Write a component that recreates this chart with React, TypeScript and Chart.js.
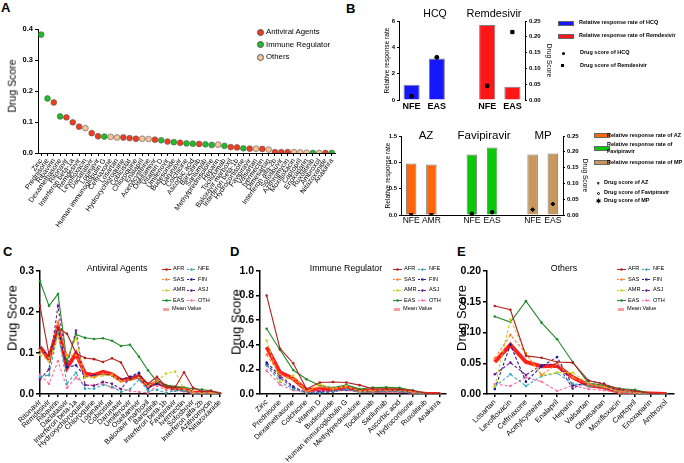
import React, { useEffect, useRef } from "react";
import { Chart, registerables } from "chart.js";
Chart.register(...registerables);

const FONT = "'Liberation Sans', Arial, Helvetica, sans-serif";
Chart.defaults.font.family = FONT;
Chart.defaults.color = "#000";

// ---------------- Panel A ----------------
const A_DRUGS = [
  "Zinc", "Prednisone", "Ribavirin", "Dexamethasone", "Ritonavir", "Interferon beta-1a", "Remdesivir",
  "Levofloxacin", "Daclatasvir", "Lopinavir", "Human immunoglobulin G", "Ceftriaxone", "Losartan",
  "Hydroxychloroquine", "Cobicistat", "Chloroquine", "Enalapril", "Acetylcysteine", "Oseltamivir",
  "Vitamin D", "Umifenovir", "Budesonide", "Darunavir", "Colchicine", "Ascorbic acid", "Baricitinib",
  "Sarilumab", "Methylprednisolone", "Heparin", "Tocilizumab", "Baloxavir marboxil", "Interferon beta-1b",
  "Hydrocortisone", "Favipiravir", "Valsartan", "Ivermectin", "Olmesartan", "Interferon alfa-2b",
  "Sofosbuvir", "Azithromycin", "Moxifloxacin", "Captopril", "Enoxaparin", "Ruxolitinib", "Ambroxol",
  "Nitazoxanide", "Anakinra",
];
const A_SCORES = [
  0.382, 0.176, 0.163, 0.118, 0.115, 0.099, 0.085, 0.080, 0.064, 0.054, 0.053, 0.052, 0.050, 0.050,
  0.048, 0.046, 0.046, 0.045, 0.043, 0.041, 0.037, 0.035, 0.033, 0.031, 0.030, 0.029, 0.028, 0.026,
  0.027, 0.023, 0.019, 0.018, 0.015, 0.014, 0.014, 0.013, 0.011, 0.003, 0.003, 0.003, 0.003, 0.002,
  0.001, 0.000, 0.000, 0.000, 0.000,
];
const A_GROUPS = [
  "IR", "IR", "AV", "IR", "AV", "AV", "AV", "OT", "AV", "AV", "IR", "OT", "OT", "AV", "AV", "AV", "OT",
  "OT", "AV", "IR", "AV", "IR", "AV", "IR", "IR", "AV", "IR", "IR", "OT", "IR", "AV", "AV", "IR", "AV",
  "OT", "AV", "OT", "AV", "AV", "AV", "OT", "OT", "OT", "IR", "OT", "AV", "IR",
];
const A_GROUP_NAMES = ["Antiviral Agents", "Immune Regulator", "Others"];
const A_GROUP_KEYS = ["AV", "IR", "OT"];
const A_GROUP_COLORS = ["#f23c1c", "#1fbd2a", "#f6c49c"];
const A_TICKS = [0, 0.1, 0.2, 0.3, 0.4];

// ---------------- Panel B ----------------
const B1_CATS = ["NFE", "EAS", "", "NFE", "EAS"];
const HCQ_RATE = [1.15, 3.15, null, null, null];
const REM_RATE = [null, null, null, 5.7, 1.0];
const HCQ_SCORE = [0.012, 0.135, null, null, null];
const REM_SCORE = [null, null, null, 0.045, 0.215];

const B2_CATS = ["NFE", "AMR", "", "NFE", "EAS", "", "NFE", "EAS"];
const AZ_RATE = [0.98, 0.96, null, null, null, null, null, null];
const FAV_RATE = [null, null, null, 1.15, 1.28, null, null, null];
const MP_RATE = [null, null, null, null, null, null, 1.15, 1.17];
const AZ_SCORE = [0.001, 0.001, null, null, null, null, null, null];
const FAV_SCORE = [null, null, null, 0.004, 0.009, null, null, null];
const MP_SCORE = [null, null, null, null, null, null, 0.017, 0.035];

// ---------------- Panel C (Antiviral Agents) ----------------
const C_DRUGS = [
  "Ritonavir", "Remdesivir", "Ribavirin", "Daclatasvir", "Interferon beta-1a", "Hydroxychloroquine",
  "Chloroquine", "Lopinavir", "Cobicistat", "Darunavir", "Umifenovir", "Oseltamivir", "Baloxavir marboxil",
  "Baricitinib", "Interferon beta-1b", "Favipiravir", "Ivermectin", "Sofosbuvir", "Interferon alfa-2b",
  "Azithromycin", "Nitazoxanide",
];
const C_AFR = [0.215, 0.095, 0.160, 0.147, 0.100, 0.088, 0.085, 0.078, 0.087, 0.077, 0.036, 0.045, 0.025, 0.042, 0.018, 0.016, 0.053, 0.015, 0.006, 0.008, 0.001];
const C_SAS = [0.107, 0.088, 0.175, 0.095, 0.095, 0.045, 0.042, 0.050, 0.048, 0.032, 0.036, 0.045, 0.018, 0.032, 0.015, 0.012, 0.012, 0.004, 0.003, 0.003, 0.001];
const C_AMR = [0.096, 0.080, 0.140, 0.090, 0.135, 0.040, 0.040, 0.045, 0.045, 0.030, 0.035, 0.042, 0.020, 0.032, 0.050, 0.055, 0.012, 0.004, 0.003, 0.003, 0.001];
const C_EAS = [0.275, 0.215, 0.244, 0.080, 0.145, 0.137, 0.134, 0.136, 0.130, 0.117, 0.120, 0.091, 0.058, 0.030, 0.022, 0.018, 0.016, 0.013, 0.011, 0.008, 0.002];
const C_NFE = [0.042, 0.046, 0.150, 0.025, 0.052, 0.013, 0.013, 0.022, 0.018, 0.005, 0.012, 0.035, 0.008, 0.010, 0.003, 0.008, 0.008, 0.002, 0.002, 0.002, 0.000];
const C_FIN = [0.110, 0.092, 0.160, 0.065, 0.070, 0.043, 0.045, 0.048, 0.045, 0.035, 0.042, 0.052, 0.015, 0.025, 0.017, 0.012, 0.010, 0.003, 0.003, 0.003, 0.001];
const C_ASJ = [0.036, 0.060, 0.215, 0.070, 0.155, 0.022, 0.020, 0.030, 0.025, 0.012, 0.040, 0.050, 0.012, 0.035, 0.015, 0.010, 0.008, 0.002, 0.002, 0.002, 0.000];
const C_OTH = [0.047, 0.025, 0.080, 0.015, 0.040, 0.022, 0.022, 0.025, 0.015, 0.012, 0.008, 0.005, 0.003, 0.020, 0.010, 0.008, 0.006, 0.002, 0.002, 0.002, 0.000];
const C_MEAN = [0.115, 0.085, 0.163, 0.064, 0.099, 0.050, 0.046, 0.054, 0.048, 0.033, 0.037, 0.043, 0.019, 0.029, 0.018, 0.014, 0.013, 0.003, 0.003, 0.003, 0.000];
const C_TICKS = [0, 0.1, 0.2, 0.3];

// ---------------- Panel D (Immune Regulator) ----------------
const D_DRUGS = [
  "Zinc", "Prednisone", "Dexamethasone", "Colchicine", "Vitamin D", "Budesonide", "Human immunoglobulin G",
  "Methylprednisolone", "Tocilizumab", "Sarilumab", "Ascorbic acid", "Hydrocortisone", "Ruxolitinib", "Anakinra",
];
const D_AFR = [0.80, 0.37, 0.25, 0.040, 0.093, 0.098, 0.093, 0.072, 0.042, 0.042, 0.038, 0.028, 0.004, 0.003];
const D_SAS = [0.32, 0.16, 0.12, 0.020, 0.060, 0.045, 0.060, 0.025, 0.025, 0.030, 0.030, 0.018, 0.002, 0.001];
const D_AMR = [0.435, 0.10, 0.15, 0.020, 0.080, 0.040, 0.065, 0.020, 0.030, 0.035, 0.030, 0.020, 0.002, 0.001];
const D_EAS = [0.53, 0.36, 0.195, 0.120, 0.070, 0.050, 0.075, 0.040, 0.053, 0.055, 0.050, 0.028, 0.003, 0.002];
const D_NFE = [0.23, 0.10, 0.04, 0.010, 0.010, 0.020, 0.040, 0.015, 0.015, 0.020, 0.020, 0.010, 0.001, 0.001];
const D_FIN = [0.255, 0.15, 0.06, 0.010, 0.010, 0.020, 0.040, 0.020, 0.020, 0.025, 0.025, 0.010, 0.001, 0.001];
const D_ASJ = [0.24, 0.13, 0.05, 0.010, 0.020, 0.025, 0.035, 0.020, 0.020, 0.020, 0.020, 0.010, 0.001, 0.001];
const D_OTH = [0.19, 0.075, 0.03, 0.010, 0.030, 0.020, 0.030, 0.015, 0.015, 0.015, 0.015, 0.010, 0.001, 0.001];
const D_MEAN = [0.382, 0.176, 0.125, 0.031, 0.041, 0.035, 0.053, 0.026, 0.023, 0.028, 0.030, 0.015, 0.000, 0.000];
const D_TICKS = [0, 0.2, 0.4, 0.6, 0.8, 1.0];

// ---------------- Panel E (Others) ----------------
const E_DRUGS = [
  "Losartan", "Levofloxacin", "Ceftriaxone", "Acetylcysteine", "Enalapril", "Heparin", "Valsartan",
  "Olmesartan", "Moxifloxacin", "Captopril", "Enoxaparin", "Ambroxol",
];
const E_AFR = [0.143, 0.137, 0.062, 0.059, 0.052, 0.051, 0.022, 0.016, 0.008, 0.005, 0.001, 0.000];
const E_SAS = [0.058, 0.096, 0.066, 0.031, 0.049, 0.027, 0.016, 0.012, 0.004, 0.003, 0.001, 0.000];
const E_AMR = [0.012, 0.121, 0.066, 0.030, 0.035, 0.035, 0.017, 0.012, 0.004, 0.003, 0.001, 0.000];
const E_EAS = [0.126, 0.117, 0.151, 0.116, 0.089, 0.052, 0.018, 0.014, 0.009, 0.007, 0.001, 0.000];
const E_NFE = [0.012, 0.032, 0.013, 0.029, 0.034, 0.017, 0.013, 0.011, 0.003, 0.002, 0.000, 0.000];
const E_FIN = [0.008, 0.080, 0.020, 0.045, 0.060, 0.014, 0.017, 0.013, 0.005, 0.003, 0.001, 0.000];
const E_ASJ = [0.032, 0.051, 0.031, 0.047, 0.049, 0.009, 0.022, 0.017, 0.005, 0.003, 0.001, 0.000];
const E_OTH = [0.016, 0.013, 0.027, 0.020, 0.005, 0.014, 0.008, 0.006, 0.002, 0.001, 0.000, 0.000];
const E_MEAN = [0.052, 0.080, 0.052, 0.045, 0.046, 0.027, 0.014, 0.011, 0.003, 0.002, 0.001, 0.000];
const E_TICKS = [0, 0.05, 0.1, 0.15, 0.2];

const POP_NAMES = ["AFR", "SAS", "AMR", "EAS", "NFE", "FIN", "ASJ", "OTH"];
const POP_COLORS = ["#b3201e", "#ff7f2a", "#cfd01c", "#1f8a2a", "#3aa7b9", "#1c1c96", "#6a1f8a", "#ff6f9f"];
const POP_DASHED = [false, true, true, false, true, true, true, true];
const MEAN_LABEL = "Mean Value";
const MEAN_COLOR = "#ff1f1f";

// ---------------- helpers ----------------
type Box = { left: number; top: number; width: number; height: number };

function ChartBox({ box, make }: { box: Box; make: () => any }) {
  const ref = useRef<HTMLCanvasElement | null>(null);
  useEffect(() => {
    const c = new Chart(ref.current as HTMLCanvasElement, make());
    return () => c.destroy();
  }, []);
  return (
    <canvas
      ref={ref}
      width={box.width}
      height={box.height}
      style={{ position: "absolute", left: box.left, top: box.top, width: box.width, height: box.height }}
    />
  );
}

function baseOptions(padding: any) {
  return {
    responsive: false,
    animation: false,
    devicePixelRatio: 1,
    events: [],
    layout: { padding },
    plugins: { legend: { display: false }, tooltip: { enabled: false }, title: { display: false } },
  };
}

function yAxis(o: {
  ticks: number[]; dec: number; width: number; size: number; position?: string;
  title?: string; titleSize?: number; titlePad?: number; tickLen?: number; lw?: number;
}) {
  return {
    type: "linear",
    position: o.position || "left",
    min: o.ticks[0],
    max: o.ticks[o.ticks.length - 1],
    afterBuildTicks: (s: any) => { s.ticks = o.ticks.map((v) => ({ value: v })); },
    ticks: {
      font: { size: o.size, weight: "bold" },
      color: "#000",
      padding: 2,
      callback: (v: number) => Number(v).toFixed(o.dec),
    },
    grid: { drawOnChartArea: false, drawTicks: true, tickLength: o.tickLen ?? 3, color: "#000", lineWidth: o.lw ?? 1 },
    border: { display: true, color: "#000", width: o.lw ?? 1 },
    title: o.title
      ? { display: true, text: o.title, color: "#000", font: { size: o.titleSize }, padding: { top: o.titlePad ?? 0, bottom: 0 } }
      : { display: false },
    afterFit: (s: any) => { s.width = o.width; },
  };
}

function xAxis(labels: string[], o: {
  height: number; size: number; rot: number; bold?: boolean; border?: boolean; marks?: boolean; offset?: boolean; lw?: number;
}) {
  return {
    type: "category",
    labels,
    offset: o.offset ?? true,
    ticks: {
      autoSkip: false,
      minRotation: o.rot,
      maxRotation: o.rot,
      font: { size: o.size, weight: o.bold ? "bold" : "normal" },
      color: "#000",
      padding: 1,
    },
    grid: { drawOnChartArea: false, drawTicks: o.marks ?? true, tickLength: 3, color: "#000", lineWidth: o.lw ?? 1, offset: false },
    border: { display: o.border ?? true, color: "#000", width: o.lw ?? 1 },
    afterFit: (s: any) => { s.height = o.height; },
  };
}

function T(p: { x: number; y: number; size: number; bold?: boolean; anchor?: string; rotate?: number; color?: string; children: any }) {
  const tx = p.anchor === "center" ? "-50%" : p.anchor === "right" ? "-100%" : "0";
  return (
    <div
      style={{
        position: "absolute", left: p.x, top: p.y, fontSize: p.size, fontWeight: p.bold ? "bold" : "normal",
        lineHeight: 1, whiteSpace: "nowrap", color: p.color || "#000",
        transform: `translate(${tx}, -50%)${p.rotate ? ` rotate(${p.rotate}deg)` : ""}`,
      }}
    >
      {p.children}
    </div>
  );
}

// ---------------- chart configs ----------------
function makeA() {
  return {
    type: "line",
    data: {
      labels: A_DRUGS,
      datasets: A_GROUP_KEYS.map((g, k) => ({
        label: A_GROUP_NAMES[k],
        data: A_SCORES.map((v, i) => (A_GROUPS[i] === g ? v : null)),
        showLine: false,
        pointRadius: 2.9,
        pointBackgroundColor: A_GROUP_COLORS[k],
        pointBorderColor: "#555",
        pointBorderWidth: 0.6,
      })),
    },
    options: {
      ...baseOptions({ top: 29, right: 5, left: 0, bottom: 0 }),
      scales: {
        x: xAxis(A_DRUGS, { height: 82, size: 7.1, rot: 55 }),
        y: yAxis({ ticks: A_TICKS, dec: 1, width: 38, size: 7.5 }),
      },
    },
  };
}

function lineDatasets(series: number[][], mean: number[]) {
  const ds: any[] = series.map((d, i) => ({
    label: POP_NAMES[i],
    data: d,
    borderColor: POP_COLORS[i],
    backgroundColor: POP_COLORS[i],
    borderWidth: 1.1,
    borderDash: POP_DASHED[i] ? [3, 2] : [],
    pointRadius: 1.3,
    pointBorderWidth: 0,
    pointBackgroundColor: POP_COLORS[i],
    tension: 0,
  }));
  ds.push({
    label: MEAN_LABEL,
    data: mean,
    borderColor: MEAN_COLOR,
    backgroundColor: MEAN_COLOR,
    borderWidth: 4,
    pointRadius: 0,
    tension: 0,
  });
  return ds;
}

function makeLines(labels: string[], series: number[][], mean: number[], ticks: number[], dec: number, pad: any, yw: number, offset: boolean, xsize: number) {
  return {
    type: "line",
    data: { labels, datasets: lineDatasets(series, mean) },
    options: {
      ...baseOptions(pad),
      scales: {
        x: xAxis(labels, { height: 69, size: xsize, rot: 45, offset, lw: 1.5 }),
        y: yAxis({ ticks, dec, width: yw, size: 10.5, tickLen: 4, lw: 1.5 }),
      },
    },
  };
}

function makeB1() {
  const bar = (data: any[], color: string) => ({
    type: "bar", data, backgroundColor: color, borderColor: "#7d7d7d", borderWidth: 1,
    grouped: false, barPercentage: 0.64, categoryPercentage: 1, yAxisID: "y", order: 2,
  });
  const pts = (data: any[], style: string, r: number) => ({
    type: "line", data, showLine: false, pointStyle: style, pointRadius: r,
    pointBackgroundColor: "#000", pointBorderColor: "#000", yAxisID: "y2", order: 0,
  });
  return {
    type: "bar",
    data: {
      labels: B1_CATS,
      datasets: [bar(HCQ_RATE, "#1717ff"), bar(REM_RATE, "#ff1717"), pts(HCQ_SCORE, "circle", 2), pts(REM_SCORE, "rect", 2.3)],
    },
    options: {
      ...baseOptions({ top: 21, right: 0, left: 0, bottom: 0 }),
      scales: {
        x: xAxis(B1_CATS, { height: 25, size: 9, rot: 0, bold: true, border: false, marks: false }),
        y: yAxis({ ticks: [0, 2, 4, 6], dec: 0, width: 23, size: 6, title: "Relative response rate", titleSize: 6.6, titlePad: 7, tickLen: 2 }),
        y2: yAxis({ ticks: [0, 0.05, 0.1, 0.15, 0.2, 0.25], dec: 2, width: 28, size: 6, position: "right", title: "Drug Score", titleSize: 6.6, titlePad: 0.5, tickLen: 2 }),
      },
    },
  };
}

function makeB2() {
  const bar = (data: any[], color: string) => ({
    type: "bar", data, backgroundColor: color, borderColor: "#7d7d7d", borderWidth: 1,
    grouped: false, barPercentage: 0.52, categoryPercentage: 1, yAxisID: "y", order: 2,
  });
  const pts = (data: any[], style: string, r: number, rot = 0) => ({
    type: "line", data, showLine: false, pointStyle: style, pointRadius: r, pointRotation: rot,
    pointBackgroundColor: "#000", pointBorderColor: "#000", yAxisID: "y2", order: 0,
  });
  return {
    type: "bar",
    data: {
      labels: B2_CATS,
      datasets: [
        bar(AZ_RATE, "#ff6608"), bar(FAV_RATE, "#08c808"), bar(MP_RATE, "#c8975c"),
        pts(AZ_SCORE, "triangle", 2.2, 180), pts(FAV_SCORE, "circle", 1.8), pts(MP_SCORE, "rectRot", 2),
      ],
    },
    options: {
      ...baseOptions({ top: 11, right: 0, left: 0, bottom: 0 }),
      scales: {
        x: xAxis(B2_CATS, { height: 20, size: 8.5, rot: 0, border: true, marks: false }),
        y: yAxis({ ticks: [0, 0.5, 1.0, 1.5], dec: 1, width: 19, size: 6, title: "Relative response rate", titleSize: 6.6, titlePad: 2, tickLen: 2 }),
        y2: yAxis({ ticks: [0, 0.05, 0.1, 0.15, 0.2, 0.25], dec: 2, width: 26, size: 6, position: "right", title: "Drug Score", titleSize: 6.6, titlePad: 0, tickLen: 2 }),
      },
    },
  };
}

// ---------------- legends ----------------
function LineSwatch({ color, dashed, width = 9, thick = false }: { color: string; dashed?: boolean; width?: number; thick?: boolean }) {
  return (
    <svg width={width} height={5} style={{ display: "block" }}>
      <line x1={0} y1={2.5} x2={width} y2={2.5} stroke={color} strokeWidth={thick ? 3 : 1} strokeDasharray={dashed ? "2,1" : undefined} />
      {!thick && <circle cx={width / 2} cy={2.5} r={1.3} fill={color} />}
    </svg>
  );
}

function PopLegend({ x, y }: { x: number; y: number }) {
  const rows = [0, 10.5, 21, 31.5];
  const items: any[] = [];
  POP_NAMES.forEach((n, i) => {
    const col = i < 4 ? 0 : 1;
    const row = i % 4;
    const cx = x + (col === 0 ? 0 : 25);
    const cy = y + rows[row];
    items.push(
      <div key={n} style={{ position: "absolute", left: cx, top: cy - 2.5 }}>
        <LineSwatch color={POP_COLORS[i]} dashed={POP_DASHED[i]} />
      </div>
    );
    items.push(<T key={n + "t"} x={cx + 11} y={cy} size={5.6}>{n}</T>);
  });
  items.push(
    <div key="mean" style={{ position: "absolute", left: x + 1, top: y + 40 - 2.5 }}>
      <LineSwatch color="#f8a0a0" thick width={6} />
    </div>
  );
  items.push(<T key="meant" x={x + 10} y={y + 40} size={5.6}>{MEAN_LABEL}</T>);
  return <>{items}</>;
}

function BoxSwatch({ x, y, color }: { x: number; y: number; color: string }) {
  return (
    <div style={{ position: "absolute", left: x, top: y - 2.5, width: 16, height: 5, background: color, border: "0.6px solid #666", boxSizing: "border-box" }} />
  );
}

export default function App() {
  return (
    <div style={{ position: "absolute", left: 0, top: 0, width: 684, height: 463, background: "#fff", overflow: "hidden", fontFamily: FONT, color: "#000" }}>
      {/* Panel letters */}
      <T x={1} y={7} size={13} bold>A</T>
      <T x={346} y={8} size={13} bold>B</T>
      <T x={3} y={251} size={13} bold>C</T>
      <T x={230} y={251} size={13} bold>D</T>
      <T x={457} y={251} size={13} bold>E</T>

      {/* Panel A */}
      <ChartBox box={{ left: 0, top: 0, width: 340, height: 235 }} make={makeA} />
      <T x={12} y={86} size={10.5} rotate={-90} anchor="center">Drug Score</T>
      {A_GROUP_NAMES.map((n, k) => (
        <React.Fragment key={n}>
          <div style={{ position: "absolute", left: 256.5, top: 28.7 + k * 12.5, width: 7, height: 7, borderRadius: "50%", background: A_GROUP_COLORS[k], border: "0.6px solid #555", boxSizing: "border-box" }} />
          <T x={266} y={32.3 + k * 12.5} size={7.8}>{n}</T>
        </React.Fragment>
      ))}

      {/* Panel B top */}
      <ChartBox box={{ left: 376, top: 0, width: 177, height: 125 }} make={makeB1} />
      <T x={435} y={13} size={10.5} anchor="center">HCQ</T>
      <T x={494} y={13} size={11} anchor="center">Remdesivir</T>
      <BoxSwatch x={558} y={23.3} color="#1717ff" />
      <T x={579} y={23.3} size={5.5} bold>Relative response rate of HCQ</T>
      <BoxSwatch x={558} y={36} color="#ff1717" />
      <T x={579} y={36} size={5.5} bold>Relative response rate of Remdesivir</T>
      <div style={{ position: "absolute", left: 561.5, top: 52, width: 3, height: 3, borderRadius: "50%", background: "#000" }} />
      <T x={580} y={53.3} size={5.5} bold>Drug score of HCQ</T>
      <div style={{ position: "absolute", left: 561.3, top: 64.3, width: 3, height: 3, background: "#000" }} />
      <T x={580} y={65.7} size={5.5} bold>Drug score of Remdesivir</T>

      {/* Panel B bottom */}
      <ChartBox box={{ left: 382, top: 125, width: 207, height: 110 }} make={makeB2} />
      <T x={426} y={136} size={11.5} anchor="center">AZ</T>
      <T x={484} y={136} size={11.5} anchor="center">Favipiravir</T>
      <T x={543} y={136} size={11.5} anchor="center">MP</T>
      <BoxSwatch x={594} y={135.8} color="#ff6608" />
      <T x={607} y={135.8} size={5.5} bold>Relative response rate of AZ</T>
      <BoxSwatch x={594} y={148.2} color="#08c808" />
      <T x={607} y={145} size={5.5} bold>Relative response rate of</T>
      <T x={607} y={151.5} size={5.5} bold>Favipiravir</T>
      <BoxSwatch x={594} y={162.7} color="#c8975c" />
      <T x={607} y={162.7} size={5.5} bold>Relative response rate of MP</T>
      <T x={598.3} y={183.3} size={5} anchor="center">▼</T>
      <T x={604} y={183.3} size={5.5} bold>Drug score of AZ</T>
      <div style={{ position: "absolute", left: 596.8, top: 191.5, width: 3, height: 3, borderRadius: "50%", border: "0.8px solid #000", boxSizing: "border-box" }} />
      <T x={604} y={193} size={5.5} bold>Drug score of Favipiravir</T>
      <T x={598.3} y={201.3} size={6} anchor="center" bold>✱</T>
      <T x={604} y={201.3} size={5.5} bold>Drug score of MP</T>

      {/* Panel C */}
      <ChartBox
        box={{ left: 0, top: 240, width: 228, height: 223 }}
        make={() => makeLines(C_DRUGS, [C_AFR, C_SAS, C_AMR, C_EAS, C_NFE, C_FIN, C_ASJ, C_OTH], C_MEAN, C_TICKS, 1, { top: 31, right: 8, left: 0, bottom: 0 }, 40, false, 7.3)}
      />
      <T x={12} y={318} size={13} rotate={-90} anchor="center">Drug Score</T>
      <T x={117} y={268} size={8.8} anchor="center">Antiviral Agents</T>
      <PopLegend x={162} y={269.3} />

      {/* Panel D */}
      <ChartBox
        box={{ left: 228, top: 240, width: 228, height: 223 }}
        make={() => makeLines(D_DRUGS, [D_AFR, D_SAS, D_AMR, D_EAS, D_NFE, D_FIN, D_ASJ, D_OTH], D_MEAN, D_TICKS, 1, { top: 31, right: 10, left: 0, bottom: 0 }, 32, true, 7.3)}
      />
      <T x={236} y={322} size={13} rotate={-90} anchor="center">Drug Score</T>
      <T x={346} y={268} size={8.8} anchor="center">Immune Regulator</T>
      <PopLegend x={393} y={269.3} />

      {/* Panel E */}
      <ChartBox
        box={{ left: 454, top: 240, width: 230, height: 223 }}
        make={() => makeLines(E_DRUGS, [E_AFR, E_SAS, E_AMR, E_EAS, E_NFE, E_FIN, E_ASJ, E_OTH], E_MEAN, E_TICKS, 2, { top: 31, right: 10, left: 0, bottom: 0 }, 33, true, 7.5)}
      />
      <T x={461} y={318} size={13} rotate={-90} anchor="center">Drug Score</T>
      <T x={564} y={268} size={8.8} anchor="center">Others</T>
      <PopLegend x={617} y={269.3} />
    </div>
  );
}
